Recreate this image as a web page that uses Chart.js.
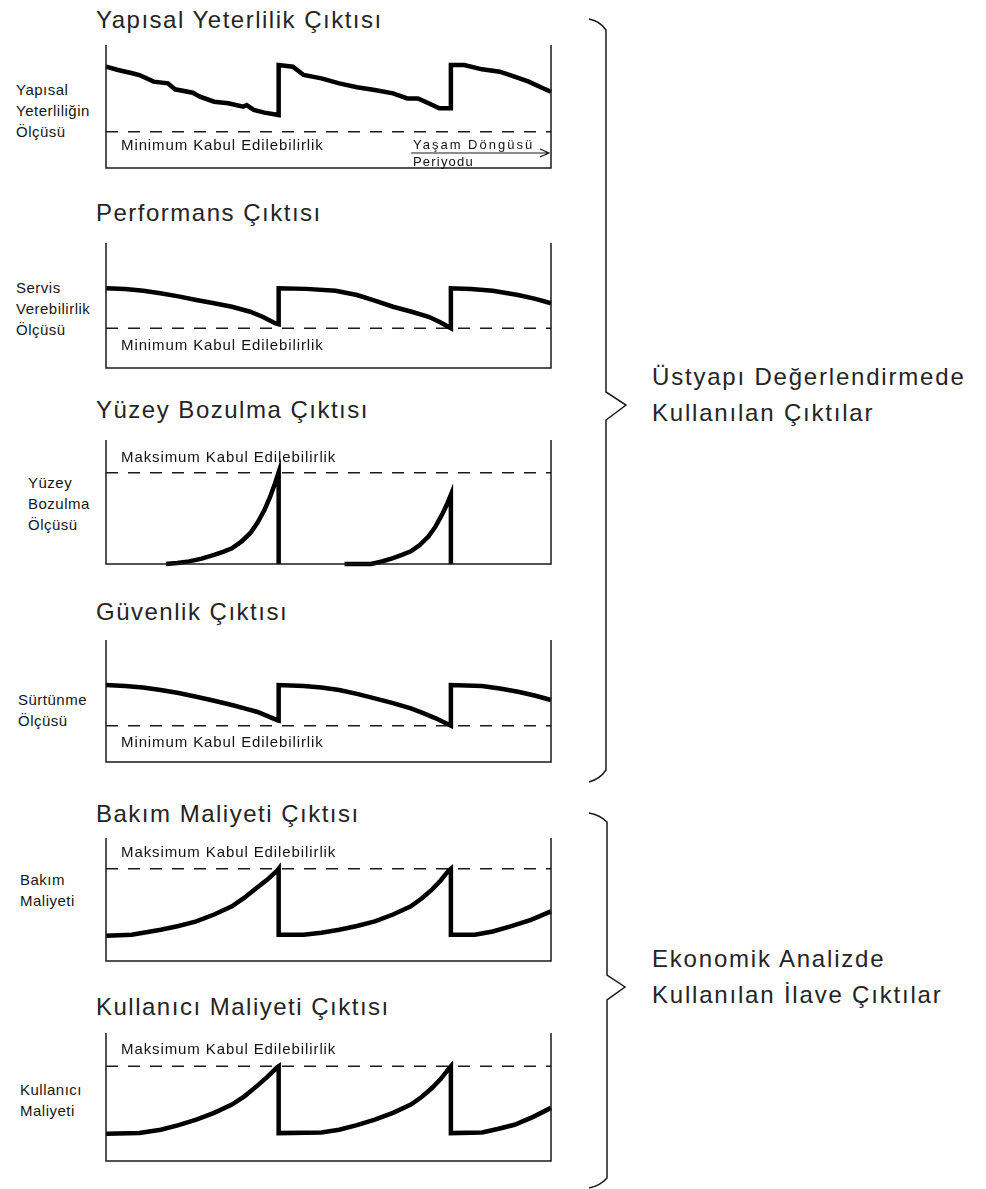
<!DOCTYPE html>
<html>
<head>
<meta charset="utf-8">
<script src="https://cdn.jsdelivr.net/npm/chart.js@4.4.1/dist/chart.umd.min.js"></script>
<style>
  body { margin: 0; background: #fff; }
  #page { position: relative; width: 986px; height: 1189px; overflow: hidden; }
  #page canvas { position: absolute; }
  #overlay { position: absolute; left: 0; top: 0; }
  #overlay text { font-family: "Liberation Sans", Arial, sans-serif; fill: #161616; }
  #overlay text.big { fill: #242424; }
</style>
</head>
<body>
<div id="page">
  <svg id="overlay" width="986" height="1189"></svg>
</div>
<script>
// x = share of the life-cycle period (0-100), y = share of the panel's range (0-100)
const structX = [0, 2.7, 5.9, 7.5, 10.7, 13.9, 15.5, 19.5, 21.1, 24.3, 27.5, 30.8, 31.6, 33.2, 35.6, 38.8, 38.8, 42.0, 44.4, 48.4, 52.4, 56.4, 60.4, 64.5, 67.7, 70.1, 72.5, 74.9, 77.5, 77.5, 80.5, 84.5, 88.5, 91.8, 95.0, 98.2, 100];
const structY = [82.4, 79.7, 77.0, 75.6, 70.2, 68.8, 64.0, 61.2, 58.0, 53.9, 52.6, 49.8, 51.2, 47.2, 45.0, 43.1, 83.7, 82.4, 75.6, 72.9, 68.8, 65.6, 63.4, 60.7, 56.6, 56.6, 52.6, 48.5, 48.5, 83.7, 83.7, 80.2, 78.3, 74.2, 70.2, 64.8, 62.0];
const structMin = 29.5;

const perfX = [0, 4.3, 8.4, 12.2, 16.3, 20.3, 24.3, 28.3, 32.4, 35.3, 38.0, 38.8, 38.8, 45.0, 51.6, 56.4, 60.4, 64.5, 68.5, 72.5, 75.0, 76.9, 77.5, 77.5, 82.0, 86.9, 92.6, 96.5, 100];
const perfY = [63.8, 63.2, 61.8, 59.8, 57.3, 54.4, 51.8, 49.0, 45.0, 40.8, 35.8, 35.0, 63.8, 63.3, 61.8, 58.4, 53.9, 49.0, 45.2, 41.0, 36.8, 33.0, 31.8, 63.8, 63.2, 61.8, 58.4, 55.3, 51.8];
const perfMin = 31.8;

const surfX = [13.5, 16.0, 18.7, 21.5, 24.3, 26.3, 28.3, 30.4, 32.4, 34.0, 35.6, 36.8, 38.0, 38.8, 38.8, 46.0, 53.6, 59.6, 62.0, 64.5, 66.5, 68.5, 70.5, 72.5, 74.1, 75.7, 76.6, 77.5, 77.5];
const surfY = [0, 0.8, 2.1, 4.3, 7.3, 9.8, 12.7, 18.0, 24.8, 33.0, 43.5, 53.5, 65.1, 74.0, 0, null, 0, 0, 2.0, 4.8, 7.3, 10.2, 15.3, 22.3, 30.5, 41.1, 48.0, 55.9, 0];
const surfMax = 73.5;

const safeX = [0, 4.3, 8.3, 12.3, 16.3, 20.3, 24.3, 28.3, 31.1, 33.9, 36.2, 38.4, 38.8, 38.8, 44.4, 48.4, 52.4, 56.4, 60.4, 64.5, 68.5, 71.3, 74.1, 77.2, 77.5, 77.5, 84.5, 88.5, 92.6, 96.3, 100];
const safeY = [63.1, 62.3, 61.0, 59.0, 56.5, 53.5, 50.2, 46.7, 44.0, 41.2, 37.8, 34.4, 34.0, 63.1, 62.3, 61.0, 59.0, 55.8, 52.2, 48.3, 44.0, 40.0, 35.8, 30.3, 29.8, 63.1, 62.3, 60.2, 57.6, 54.5, 50.8];
const safeMin = 29.8;

const maintX = [0, 5.8, 12.3, 16.3, 20.3, 24.3, 28.3, 31.1, 33.9, 36.2, 38.4, 38.8, 38.8, 44.4, 48.4, 52.4, 56.4, 60.4, 64.5, 68.5, 71.0, 73.3, 75.2, 76.9, 77.5, 77.5, 82.9, 86.9, 90.9, 95.5, 100];
const maintY = [20.5, 21.3, 25.4, 28.5, 32.2, 37.8, 44.5, 51.5, 59.6, 66.0, 73.2, 75.0, 21.3, 21.3, 23.0, 25.4, 28.5, 32.2, 37.8, 44.5, 51.0, 58.2, 65.5, 73.2, 75.0, 21.3, 21.3, 24.0, 28.1, 33.5, 40.4];
const maintMax = 75;

const userX = [0, 7.5, 12.3, 16.3, 20.3, 24.3, 28.3, 31.1, 33.9, 36.2, 38.4, 38.8, 38.8, 48.4, 52.4, 56.4, 60.4, 64.5, 68.5, 71.0, 73.3, 75.2, 76.9, 77.5, 77.5, 84.5, 88.0, 91.8, 96.0, 100];
const userY = [21.3, 21.8, 24.4, 28.0, 32.3, 37.6, 44.1, 50.5, 58.5, 65.5, 73.0, 74.0, 21.8, 22.3, 24.4, 28.0, 32.3, 37.6, 44.1, 50.2, 57.2, 64.0, 71.6, 74.0, 21.8, 22.3, 25.0, 28.3, 34.5, 41.5];
const userMax = 74;

const titles = ['Yapısal Yeterlilik Çıktısı', 'Performans Çıktısı', 'Yüzey Bozulma Çıktısı',
                'Güvenlik Çıktısı', 'Bakım Maliyeti Çıktısı', 'Kullanıcı Maliyeti Çıktısı'];
const axisLabels = [['Yapısal', 'Yeterliliğin', 'Ölçüsü'], ['Servis', 'Verebilirlik', 'Ölçüsü'],
                    ['Yüzey', 'Bozulma', 'Ölçüsü'], ['Sürtünme', 'Ölçüsü'],
                    ['Bakım', 'Maliyeti'], ['Kullanıcı', 'Maliyeti']];
const minNote = 'Minimum Kabul Edilebilirlik';
const maxNote = 'Maksimum Kabul Edilebilirlik';
const groupLabels = [['Üstyapı Değerlendirmede', 'Kullanılan Çıktılar'],
                     ['Ekonomik Analizde', 'Kullanılan İlave Çıktılar']];

// panel layout (pixels)
const FRAME_L = 106, FRAME_R = 551, PAD = 8;
const panels = [
  { xs: structX, ys: structY, limit: structMin, note: minNote, noteDy: 14, top: 45, bottom: 168, titleY: 28, labelX: 16, labelY: 95, lifecycle: true },
  { xs: perfX, ys: perfY, limit: perfMin, note: minNote, noteDy: 18, top: 243, bottom: 368, titleY: 221, labelX: 16, labelY: 293 },
  { xs: surfX, ys: surfY, limit: surfMax, note: maxNote, noteDy: -15, top: 440, bottom: 564, titleY: 418, labelX: 28, labelY: 488 },
  { xs: safeX, ys: safeY, limit: safeMin, note: minNote, noteDy: 17, top: 640, bottom: 762, titleY: 620, labelX: 18, labelY: 705 },
  { xs: maintX, ys: maintY, limit: maintMax, note: maxNote, noteDy: -16, top: 838, bottom: 961, titleY: 822, labelX: 20, labelY: 885 },
  { xs: userX, ys: userY, limit: userMax, note: maxNote, noteDy: -16, top: 1033, bottom: 1161, titleY: 1015, labelX: 20, labelY: 1095 }
];

// frame (left, bottom, right), threshold note and the life-cycle arrow
const frameNotes = {
  id: 'frameNotes',
  afterDatasetsDraw(chart, args, opts) {
    const { ctx, chartArea: a, scales: { y } } = chart;
    ctx.save();
    ctx.strokeStyle = '#1a1a1a';
    ctx.lineWidth = 1.5;
    ctx.beginPath();
    ctx.moveTo(a.left, a.top);
    ctx.lineTo(a.left, a.bottom);
    ctx.lineTo(a.right, a.bottom);
    ctx.lineTo(a.right, a.top);
    ctx.stroke();

    ctx.fillStyle = '#111';
    ctx.font = '15px "Liberation Sans", Arial, sans-serif';
    ctx.letterSpacing = '0.9px';
    ctx.textBaseline = 'middle';
    ctx.fillText(opts.note, a.left + 15, y.getPixelForValue(opts.limit) + opts.noteDy);

    if (opts.lifecycle) {
      const x0 = a.left + 305, x1 = a.right - 2, ay = a.bottom - 15;
      ctx.lineWidth = 1.2;
      ctx.beginPath();
      ctx.moveTo(x0, ay); ctx.lineTo(x1, ay);
      ctx.moveTo(x1 - 9, ay - 4); ctx.lineTo(x1, ay); ctx.lineTo(x1 - 9, ay + 4);
      ctx.stroke();
      ctx.font = '13px "Liberation Sans", Arial, sans-serif';
      ctx.letterSpacing = '2px';
      ctx.fillText('Yaşam Döngüsü', x0 + 2, ay - 8);
      ctx.letterSpacing = '1.2px';
      ctx.fillText('Periyodu', x0 + 2, ay + 9);
    }
    ctx.restore();
  }
};

const page = document.getElementById('page');
panels.forEach(p => {
  const canvas = document.createElement('canvas');
  canvas.width = FRAME_R - FRAME_L + 2 * PAD;
  canvas.height = p.bottom - p.top + 2 * PAD;
  canvas.style.left = (FRAME_L - PAD) + 'px';
  canvas.style.top = (p.top - PAD) + 'px';
  page.appendChild(canvas);

  new Chart(canvas, {
    type: 'line',
    data: {
      datasets: [
        {
          data: p.xs.map((x, i) => ({ x: x, y: p.ys[i] })),
          borderColor: '#000',
          borderWidth: 4.5,
          borderJoinStyle: 'miter',
          spanGaps: false,
          clip: false
        },
        {
          data: [{ x: 0, y: p.limit }, { x: 100, y: p.limit }],
          borderColor: '#1a1a1a',
          borderWidth: 1.5,
          borderDash: [12, 10],
          clip: false
        }
      ]
    },
    options: {
      responsive: false,
      animation: false,
      events: [],
      layout: { padding: PAD },
      elements: { point: { radius: 0 }, line: { tension: 0 } },
      plugins: {
        legend: { display: false },
        tooltip: { enabled: false },
        frameNotes: { note: p.note, limit: p.limit, noteDy: p.noteDy, lifecycle: !!p.lifecycle }
      },
      scales: {
        x: { type: 'linear', min: 0, max: 100, display: false },
        y: { min: 0, max: 100, display: false }
      }
    },
    plugins: [frameNotes]
  });
});

// titles, axis labels, braces and group labels
const svg = document.getElementById('overlay');
const NS = 'http://www.w3.org/2000/svg';
function addText(str, x, y, size, spacing, cls) {
  const t = document.createElementNS(NS, 'text');
  t.setAttribute('x', x);
  t.setAttribute('y', y);
  t.setAttribute('font-size', size);
  if (cls) t.setAttribute('class', cls);
  t.style.letterSpacing = spacing + 'px';
  t.textContent = str;
  svg.appendChild(t);
}
panels.forEach((p, i) => {
  addText(titles[i], 96, p.titleY, 24, 1.5, 'big');
  axisLabels[i].forEach((line, j) => addText(line, p.labelX, p.labelY + j * 21, 15, 0.5));
});

const braces = [
  'M589,19 Q600,21 606,30 L606,392 L626,405 L606,420 L606,770 Q600,779 589,782',
  'M589,813 Q600,815 607,822 L607,975 L625,987 L607,1000 L607,1178 Q600,1186 589,1188'
];
braces.forEach(d => {
  const path = document.createElementNS(NS, 'path');
  path.setAttribute('d', d);
  path.setAttribute('fill', 'none');
  path.setAttribute('stroke', '#1a1a1a');
  path.setAttribute('stroke-width', '1.5');
  svg.appendChild(path);
});
addText(groupLabels[0][0], 652, 385, 24, 1.8, 'big');
addText(groupLabels[0][1], 652, 421, 24, 1.8, 'big');
addText(groupLabels[1][0], 652, 967, 24, 1.8, 'big');
addText(groupLabels[1][1], 652, 1003, 24, 1.8, 'big');
</script>
</body>
</html>
